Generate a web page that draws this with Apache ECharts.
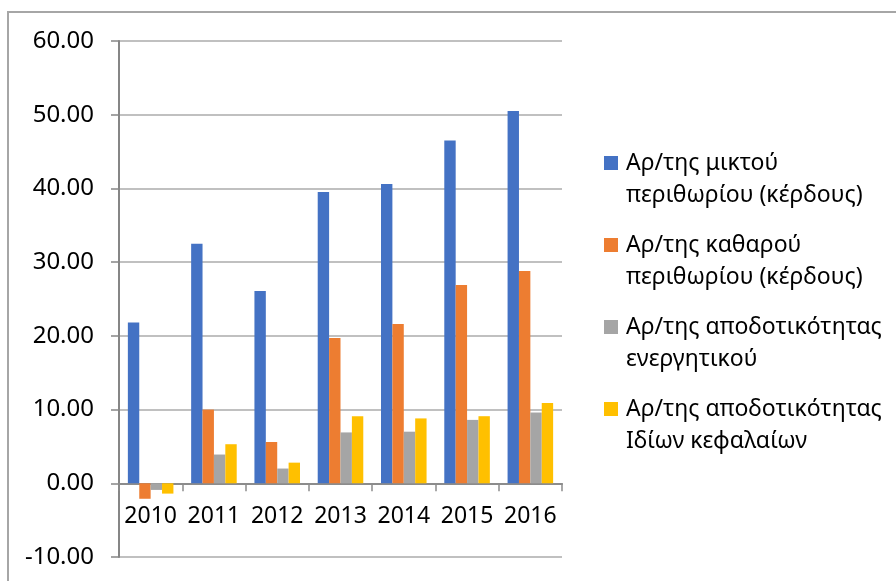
<!DOCTYPE html>
<html>
<head>
<meta charset="utf-8">
<script src="https://cdn.jsdelivr.net/npm/echarts@6/dist/echarts.min.js"></script>
<style>
  html, body { margin: 0; padding: 0; background: #fff; }
  #chart { width: 896px; height: 581px; }
</style>
</head>
<body>
<div id="chart"></div>
<script>
// Financial ratios per year (values in %)
const years = ['2010', '2011', '2012', '2013', '2014', '2015', '2016'];

const grossMargin  = [21.8, 32.5, 26.1, 39.5, 40.6, 46.5, 50.5];
const netMargin    = [-2.1, 10.0, 5.6, 19.7, 21.6, 26.9, 28.8];
const returnAssets = [-0.9, 3.9, 2.0, 6.9, 7.0, 8.6, 9.6];
const returnEquity = [-1.4, 5.3, 2.8, 9.1, 8.8, 9.1, 10.9];

const seriesNames = [
  'Αρ/της μικτού περιθωρίου (κέρδους)',
  'Αρ/της καθαρού περιθωρίου (κέρδους)',
  'Αρ/της αποδοτικότητας ενεργητικού',
  'Αρ/της αποδοτικότητας Ιδίων κεφαλαίων'
];
// Two-line legend labels; a leading empty line keeps the marker beside the first line
const legendLines = [
  ['Αρ/της μικτού', 'περιθωρίου (κέρδους)'],
  ['Αρ/της καθαρού', 'περιθωρίου (κέρδους)'],
  ['Αρ/της αποδοτικότητας', 'ενεργητικού'],
  ['Αρ/της αποδοτικότητας', 'Ιδίων κεφαλαίων']
];
const yTicks = { min: -10, max: 60, step: 10 };

const colors = ['#4472C4', '#ED7D31', '#A5A5A5', '#FFC000'];
const font = '"Noto Sans", "DejaVu Sans", sans-serif';

const chart = echarts.init(document.getElementById('chart'), null, { renderer: 'canvas' });

const allSeries = [grossMargin, netMargin, returnAssets, returnEquity].map((data, i) => ({
  name: seriesNames[i],
  type: 'bar',
  data: data,
  barGap: '0%',
  barCategoryGap: '28%',
  itemStyle: { color: colors[i] }
}));

chart.setOption({
  animation: false,
  color: colors,
  textStyle: { fontFamily: font },
  graphic: [{
    type: 'rect',
    shape: { x: 8, y: 12, width: 1000, height: 1000 },
    style: { fill: 'none', stroke: '#a6a6a6', lineWidth: 2 },
    silent: true
  }],
  grid: {
    left: 119, right: 334, top: 41, bottom: 24,
    containLabel: false,
    outerBoundsMode: 'none'
  },
  legend: {
    orient: 'vertical',
    left: 604,
    top: 115,
    padding: 0,
    itemWidth: 14,
    itemHeight: 14,
    itemGap: -14,
    icon: 'rect',
    data: seriesNames,
    formatter: name => '\n' + legendLines[seriesNames.indexOf(name)].join('\n'),
    textStyle: {
      fontFamily: font,
      fontSize: 23,
      color: '#000',
      lineHeight: 32,
      padding: [0, 0, 0, 3]
    }
  },
  xAxis: {
    type: 'category',
    data: years,
    axisLine: { onZero: true, lineStyle: { color: '#8c8c8c', width: 2 } },
    axisTick: { show: true, length: 8, alignWithLabel: false, lineStyle: { color: '#8c8c8c', width: 1.5 } },
    // labels sit just under the zero line, inside the plot
    axisLabel: { fontFamily: font, fontSize: 23, color: '#000', margin: -52, interval: 0 },
    splitLine: { show: false }
  },
  yAxis: {
    type: 'value',
    min: yTicks.min,
    max: yTicks.max,
    interval: yTicks.step,
    axisLine: { show: true, lineStyle: { color: '#868686', width: 2 } },
    axisTick: { show: true, length: 8, lineStyle: { color: '#868686', width: 1.5 } },
    axisLabel: {
      fontFamily: font,
      fontSize: 24,
      color: '#000',
      margin: 25,
      formatter: v => v.toFixed(2)
    },
    splitLine: { show: true, lineStyle: { color: '#ababab', width: 1.5 } }
  },
  series: allSeries
});
</script>
</body>
</html>
